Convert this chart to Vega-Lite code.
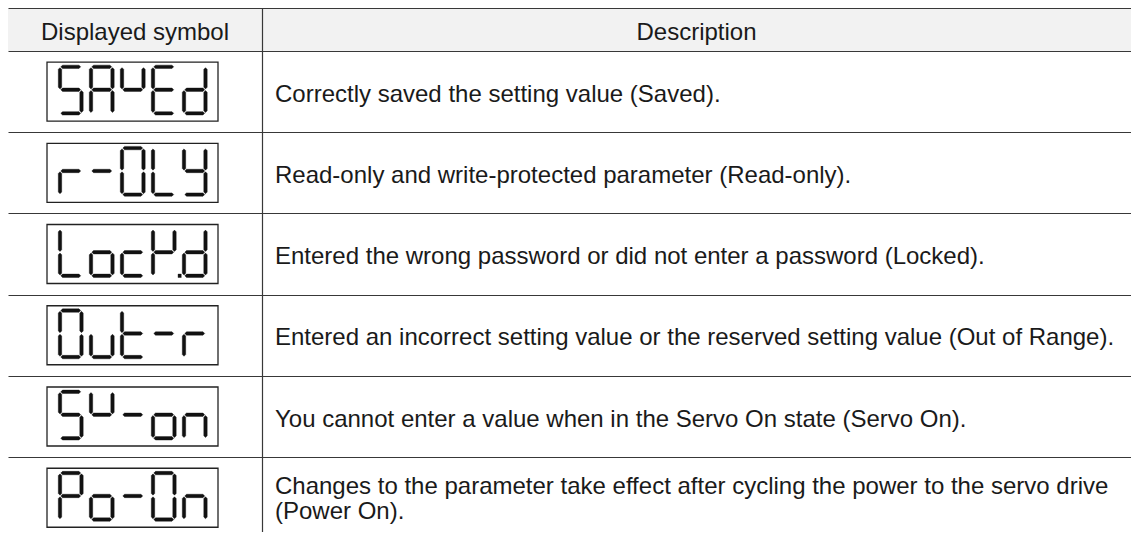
{
  "$schema": "https://vega.github.io/schema/vega-lite/v6.json",
  "width": 1131,
  "height": 533,
  "autosize": {"type": "fit", "contains": "padding"},
  "padding": {"left": 8, "top": 0, "right": 0, "bottom": 0},
  "background": "white",
  "config": {"view": {"stroke": null}, "font": "Liberation Sans"},
  "datasets": {
    "rows": [
      {"row": 1, "symbol": "SAVEd", "lines": 1, "desc": "Correctly saved the setting value (Saved)."},
      {"row": 2, "symbol": "r-OLY", "lines": 1, "desc": "Read-only and write-protected parameter (Read-only)."},
      {"row": 3, "symbol": "LocK.d", "lines": 1, "desc": "Entered the wrong password or did not enter a password (Locked)."},
      {"row": 4, "symbol": "Out-r", "lines": 1, "desc": "Entered an incorrect setting value or the reserved setting value (Out of Range)."},
      {"row": 5, "symbol": "Sv-on", "lines": 1, "desc": "You cannot enter a value when in the Servo On state (Servo On)."},
      {"row": 6, "symbol": "Po-On", "lines": 2, "desc": "Changes to the parameter take effect after cycling the power to the servo drive\n(Power On)."}
    ],
    "glyphs": [
      {"row": 1, "pos": 1, "ch": "S"}, {"row": 1, "pos": 2, "ch": "A"}, {"row": 1, "pos": 3, "ch": "V"}, {"row": 1, "pos": 4, "ch": "E"}, {"row": 1, "pos": 5, "ch": "d"},
      {"row": 2, "pos": 1, "ch": "r"}, {"row": 2, "pos": 2, "ch": "-"}, {"row": 2, "pos": 3, "ch": "O"}, {"row": 2, "pos": 4, "ch": "L"}, {"row": 2, "pos": 5, "ch": "Y"},
      {"row": 3, "pos": 1, "ch": "L"}, {"row": 3, "pos": 2, "ch": "o"}, {"row": 3, "pos": 3, "ch": "c"}, {"row": 3, "pos": 4, "ch": "K."}, {"row": 3, "pos": 5, "ch": "d"},
      {"row": 4, "pos": 1, "ch": "O"}, {"row": 4, "pos": 2, "ch": "u"}, {"row": 4, "pos": 3, "ch": "t"}, {"row": 4, "pos": 4, "ch": "-"}, {"row": 4, "pos": 5, "ch": "r"},
      {"row": 5, "pos": 1, "ch": "S"}, {"row": 5, "pos": 2, "ch": "v"}, {"row": 5, "pos": 3, "ch": "-"}, {"row": 5, "pos": 4, "ch": "o"}, {"row": 5, "pos": 5, "ch": "n"},
      {"row": 6, "pos": 1, "ch": "P"}, {"row": 6, "pos": 2, "ch": "o"}, {"row": 6, "pos": 3, "ch": "-"}, {"row": 6, "pos": 4, "ch": "O"}, {"row": 6, "pos": 5, "ch": "n"}
    ]
  },
  "layer": [
    {
      "data": {"values": [{}]},
      "mark": {"type": "rect", "fill": "#f2f2f2"},
      "encoding": {
        "x": {"datum": -1.0242, "type": "quantitative", "scale": {"domain": [-1.0242, 35.2016], "nice": false, "zero": false}, "axis": null},
        "x2": {"datum": 35.2016},
        "y": {"datum": -0.02826, "type": "quantitative", "scale": {"domain": [-0.12654, 6.42137], "reverse": true, "nice": false, "zero": false},
              "axis": {"values": [-0.02826, 0.5, 1.5, 2.5, 3.5, 4.5, 5.5], "grid": true, "gridColor": "#383838", "gridWidth": 1.2, "gridOpacity": 1, "labels": false, "ticks": false, "domain": false, "title": null, "zindex": 1, "minExtent": 0, "maxExtent": 0, "offset": 0}},
        "y2": {"datum": 0.5}
      }
    },
    {
      "data": {"name": "rows"},
      "transform": [{"filter": "datum.lines == 1"}],
      "mark": {"type": "text", "align": "left", "baseline": "middle", "font": "Liberation Sans", "fontSize": 24, "dy": 3, "color": "#1a1a1a"},
      "encoding": {
        "x": {"datum": 7.5887, "type": "quantitative"},
        "y": {"field": "row", "type": "quantitative"},
        "text": {"field": "desc", "type": "nominal"}
      }
    },
    {
      "data": {"name": "rows"},
      "transform": [{"filter": "datum.lines == 2"}],
      "mark": {"type": "text", "align": "left", "baseline": "middle", "font": "Liberation Sans", "fontSize": 24, "dy": -11, "lineBreak": "\n", "lineHeight": 25, "color": "#1a1a1a"},
      "encoding": {
        "x": {"datum": 7.5887, "type": "quantitative"},
        "y": {"field": "row", "type": "quantitative"},
        "text": {"field": "desc", "type": "nominal"}
      }
    },
    {
      "data": {"values": [{"label": "Displayed symbol"}]},
      "mark": {"type": "text", "align": "center", "baseline": "middle", "font": "Liberation Sans", "fontSize": 24, "dy": 4, "color": "#1a1a1a"},
      "encoding": {
        "x": {"datum": 3.0726, "type": "quantitative"},
        "y": {"datum": 0.23587, "type": "quantitative"},
        "text": {"field": "label", "type": "nominal"}
      }
    },
    {
      "data": {"values": [{"label": "Description"}]},
      "mark": {"type": "text", "align": "center", "baseline": "middle", "font": "Liberation Sans", "fontSize": 24, "dy": 4, "color": "#1a1a1a"},
      "encoding": {
        "x": {"datum": 21.1855, "type": "quantitative"},
        "y": {"datum": 0.23587, "type": "quantitative"},
        "text": {"field": "label", "type": "nominal"}
      }
    },
    {
      "data": {"values": [{}]},
      "mark": {"type": "rule", "stroke": "#383838", "strokeWidth": 1.2},
      "encoding": {
        "x": {"datum": 7.1855, "type": "quantitative"},
        "y": {"datum": -0.02826, "type": "quantitative"},
        "y2": {"datum": 6.42137}
      }
    },
    {
      "data": {"name": "rows"},
      "mark": {"type": "point", "shape": "M-85.5,-29.5L85.5,-29.5L85.5,29.5L-85.5,29.5Z", "size": 4, "filled": false, "stroke": "#222222", "strokeWidth": 1.3, "opacity": 1},
      "encoding": {
        "x": {"datum": 2.992, "type": "quantitative"},
        "y": {"field": "row", "type": "quantitative"}
      }
    },
    {
      "data": {"name": "glyphs"},
      "mark": {"type": "point", "size": 4, "filled": true, "fill": "#111111", "stroke": "#111111", "strokeWidth": 0.4, "opacity": 1},
      "encoding": {
        "x": {"field": "pos", "type": "quantitative"},
        "y": {"field": "row", "type": "quantitative"},
        "shape": {
          "field": "ch", "type": "nominal", "legend": null,
          "scale": {
            "domain": ["S", "A", "V", "E", "d", "r", "-", "O", "L", "Y", "o", "c", "K.", "u", "t", "n", "P", "v"],
            "range": [
              "M-9.95,-24.7L-8.25,-26.4L8.25,-26.4L9.95,-24.7L8.25,-23L-8.25,-23Z M-10.75,-23.9L-9.05,-22.2L-9.05,-4.3L-10.75,-2.6L-12.45,-4.3L-12.45,-22.2Z M-9.95,-1.8L-8.25,-3.5L8.25,-3.5L9.95,-1.8L8.25,-0.1L-8.25,-0.1Z M10.75,-1L12.45,0.7L12.45,19.3L10.75,21L9.05,19.3L9.05,0.7Z M-9.95,21.8L-8.25,20.1L8.25,20.1L9.95,21.8L8.25,23.5L-8.25,23.5Z",
              "M-9.95,-24.7L-8.25,-26.4L8.25,-26.4L9.95,-24.7L8.25,-23L-8.25,-23Z M10.75,-23.9L12.45,-22.2L12.45,-4.3L10.75,-2.6L9.05,-4.3L9.05,-22.2Z M10.75,-1L12.45,0.7L12.45,19.3L10.75,21L9.05,19.3L9.05,0.7Z M-10.75,-1L-9.05,0.7L-9.05,19.3L-10.75,21L-12.45,19.3L-12.45,0.7Z M-10.75,-23.9L-9.05,-22.2L-9.05,-4.3L-10.75,-2.6L-12.45,-4.3L-12.45,-22.2Z M-9.95,-1.8L-8.25,-3.5L8.25,-3.5L9.95,-1.8L8.25,-0.1L-8.25,-0.1Z",
              "M-10.75,-23.9L-9.05,-22.2L-9.05,-4.3L-10.75,-2.6L-12.45,-4.3L-12.45,-22.2Z M10.75,-23.9L12.45,-22.2L12.45,-4.3L10.75,-2.6L9.05,-4.3L9.05,-22.2Z M-9.95,-1.8L-8.25,-3.5L8.25,-3.5L9.95,-1.8L8.25,-0.1L-8.25,-0.1Z",
              "M-9.95,-24.7L-8.25,-26.4L8.25,-26.4L9.95,-24.7L8.25,-23L-8.25,-23Z M-10.75,-23.9L-9.05,-22.2L-9.05,-4.3L-10.75,-2.6L-12.45,-4.3L-12.45,-22.2Z M-9.95,-1.8L-8.25,-3.5L8.25,-3.5L9.95,-1.8L8.25,-0.1L-8.25,-0.1Z M-10.75,-1L-9.05,0.7L-9.05,19.3L-10.75,21L-12.45,19.3L-12.45,0.7Z M-9.95,21.8L-8.25,20.1L8.25,20.1L9.95,21.8L8.25,23.5L-8.25,23.5Z",
              "M10.75,-23.9L12.45,-22.2L12.45,-4.3L10.75,-2.6L9.05,-4.3L9.05,-22.2Z M10.75,-1L12.45,0.7L12.45,19.3L10.75,21L9.05,19.3L9.05,0.7Z M-9.95,21.8L-8.25,20.1L8.25,20.1L9.95,21.8L8.25,23.5L-8.25,23.5Z M-10.75,-1L-9.05,0.7L-9.05,19.3L-10.75,21L-12.45,19.3L-12.45,0.7Z M-9.95,-1.8L-8.25,-3.5L8.25,-3.5L9.95,-1.8L8.25,-0.1L-8.25,-0.1Z",
              "M-10.75,-1L-9.05,0.7L-9.05,19.3L-10.75,21L-12.45,19.3L-12.45,0.7Z M-9.95,-1.8L-8.25,-3.5L8.25,-3.5L9.95,-1.8L8.25,-0.1L-8.25,-0.1Z",
              "M-9.95,-1.8L-8.25,-3.5L8.25,-3.5L9.95,-1.8L8.25,-0.1L-8.25,-0.1Z",
              "M-9.95,-24.7L-8.25,-26.4L8.25,-26.4L9.95,-24.7L8.25,-23L-8.25,-23Z M10.75,-23.9L12.45,-22.2L12.45,-4.3L10.75,-2.6L9.05,-4.3L9.05,-22.2Z M10.75,-1L12.45,0.7L12.45,19.3L10.75,21L9.05,19.3L9.05,0.7Z M-9.95,21.8L-8.25,20.1L8.25,20.1L9.95,21.8L8.25,23.5L-8.25,23.5Z M-10.75,-1L-9.05,0.7L-9.05,19.3L-10.75,21L-12.45,19.3L-12.45,0.7Z M-10.75,-23.9L-9.05,-22.2L-9.05,-4.3L-10.75,-2.6L-12.45,-4.3L-12.45,-22.2Z",
              "M-10.75,-23.9L-9.05,-22.2L-9.05,-4.3L-10.75,-2.6L-12.45,-4.3L-12.45,-22.2Z M-10.75,-1L-9.05,0.7L-9.05,19.3L-10.75,21L-12.45,19.3L-12.45,0.7Z M-9.95,21.8L-8.25,20.1L8.25,20.1L9.95,21.8L8.25,23.5L-8.25,23.5Z",
              "M-10.75,-23.9L-9.05,-22.2L-9.05,-4.3L-10.75,-2.6L-12.45,-4.3L-12.45,-22.2Z M10.75,-23.9L12.45,-22.2L12.45,-4.3L10.75,-2.6L9.05,-4.3L9.05,-22.2Z M-9.95,-1.8L-8.25,-3.5L8.25,-3.5L9.95,-1.8L8.25,-0.1L-8.25,-0.1Z M10.75,-1L12.45,0.7L12.45,19.3L10.75,21L9.05,19.3L9.05,0.7Z M-9.95,21.8L-8.25,20.1L8.25,20.1L9.95,21.8L8.25,23.5L-8.25,23.5Z",
              "M10.75,-1L12.45,0.7L12.45,19.3L10.75,21L9.05,19.3L9.05,0.7Z M-9.95,21.8L-8.25,20.1L8.25,20.1L9.95,21.8L8.25,23.5L-8.25,23.5Z M-10.75,-1L-9.05,0.7L-9.05,19.3L-10.75,21L-12.45,19.3L-12.45,0.7Z M-9.95,-1.8L-8.25,-3.5L8.25,-3.5L9.95,-1.8L8.25,-0.1L-8.25,-0.1Z",
              "M-9.95,21.8L-8.25,20.1L8.25,20.1L9.95,21.8L8.25,23.5L-8.25,23.5Z M-10.75,-1L-9.05,0.7L-9.05,19.3L-10.75,21L-12.45,19.3L-12.45,0.7Z M-9.95,-1.8L-8.25,-3.5L8.25,-3.5L9.95,-1.8L8.25,-0.1L-8.25,-0.1Z",
              "M-10.75,-23.9L-9.05,-22.2L-9.05,-4.3L-10.75,-2.6L-12.45,-4.3L-12.45,-22.2Z M-10.75,-1L-9.05,0.7L-9.05,19.3L-10.75,21L-12.45,19.3L-12.45,0.7Z M10.75,-23.9L12.45,-22.2L12.45,-4.3L10.75,-2.6L9.05,-4.3L9.05,-22.2Z M-9.95,-1.8L-8.25,-3.5L8.25,-3.5L9.95,-1.8L8.25,-0.1L-8.25,-0.1Z M14.3,20.1L17.5,20.1L17.5,23.5L14.3,23.5Z",
              "M10.75,-1L12.45,0.7L12.45,19.3L10.75,21L9.05,19.3L9.05,0.7Z M-9.95,21.8L-8.25,20.1L8.25,20.1L9.95,21.8L8.25,23.5L-8.25,23.5Z M-10.75,-1L-9.05,0.7L-9.05,19.3L-10.75,21L-12.45,19.3L-12.45,0.7Z",
              "M-10.75,-23.9L-9.05,-22.2L-9.05,-4.3L-10.75,-2.6L-12.45,-4.3L-12.45,-22.2Z M-10.75,-1L-9.05,0.7L-9.05,19.3L-10.75,21L-12.45,19.3L-12.45,0.7Z M-9.95,21.8L-8.25,20.1L8.25,20.1L9.95,21.8L8.25,23.5L-8.25,23.5Z M-9.95,-1.8L-8.25,-3.5L8.25,-3.5L9.95,-1.8L8.25,-0.1L-8.25,-0.1Z",
              "M10.75,-1L12.45,0.7L12.45,19.3L10.75,21L9.05,19.3L9.05,0.7Z M-10.75,-1L-9.05,0.7L-9.05,19.3L-10.75,21L-12.45,19.3L-12.45,0.7Z M-9.95,-1.8L-8.25,-3.5L8.25,-3.5L9.95,-1.8L8.25,-0.1L-8.25,-0.1Z",
              "M-9.95,-24.7L-8.25,-26.4L8.25,-26.4L9.95,-24.7L8.25,-23L-8.25,-23Z M10.75,-23.9L12.45,-22.2L12.45,-4.3L10.75,-2.6L9.05,-4.3L9.05,-22.2Z M-10.75,-23.9L-9.05,-22.2L-9.05,-4.3L-10.75,-2.6L-12.45,-4.3L-12.45,-22.2Z M-9.95,-1.8L-8.25,-3.5L8.25,-3.5L9.95,-1.8L8.25,-0.1L-8.25,-0.1Z M-10.75,-1L-9.05,0.7L-9.05,19.3L-10.75,21L-12.45,19.3L-12.45,0.7Z",
              "M-10.75,-23.9L-9.05,-22.2L-9.05,-4.3L-10.75,-2.6L-12.45,-4.3L-12.45,-22.2Z M10.75,-23.9L12.45,-22.2L12.45,-4.3L10.75,-2.6L9.05,-4.3L9.05,-22.2Z M-9.95,-1.8L-8.25,-3.5L8.25,-3.5L9.95,-1.8L8.25,-0.1L-8.25,-0.1Z"
            ]
          }
        }
      }
    }
  ]
}
